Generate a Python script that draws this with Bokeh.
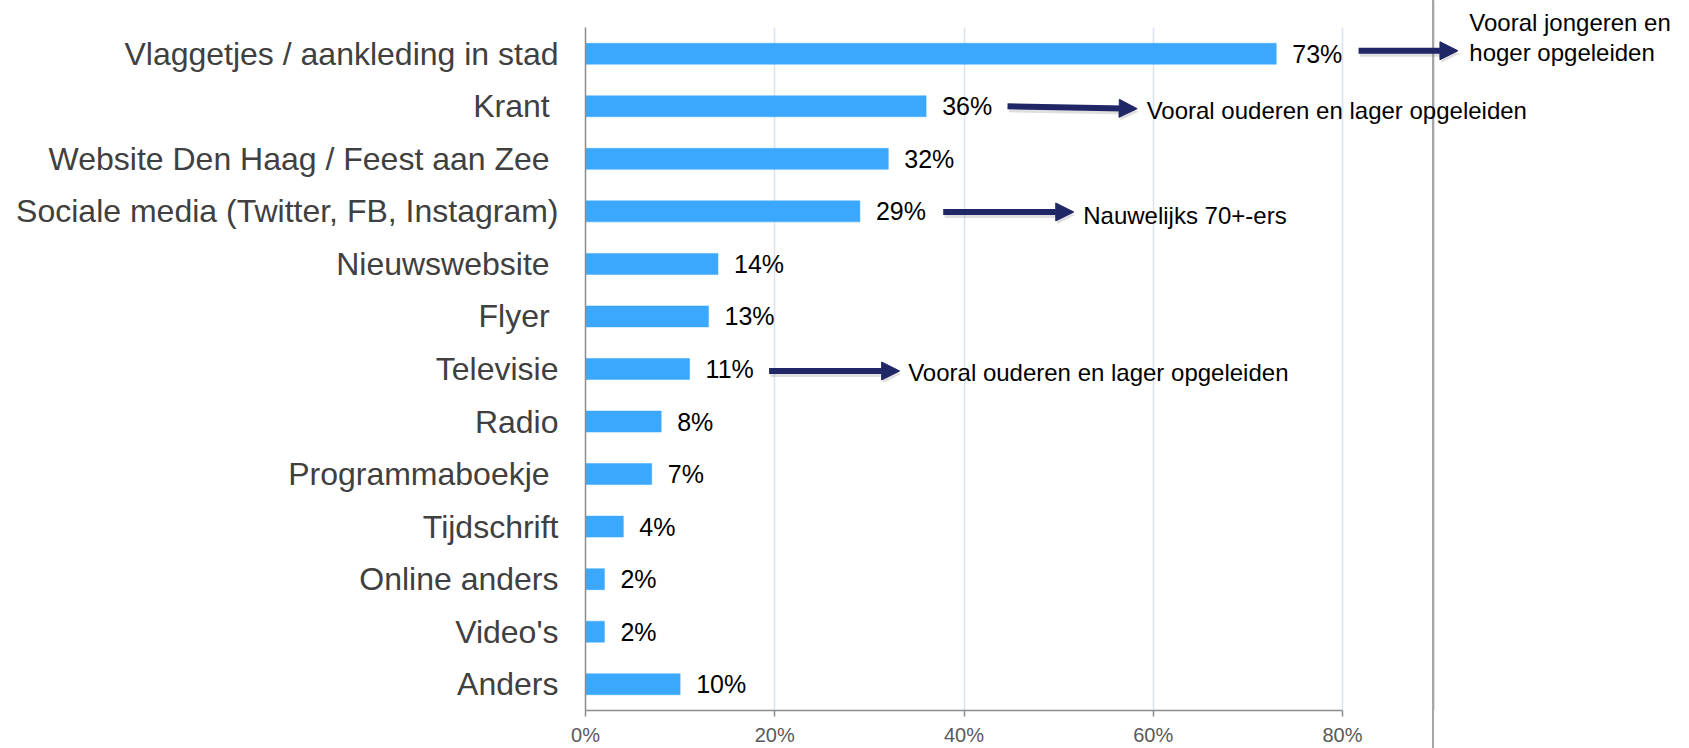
from bokeh.plotting import figure
from bokeh.models import (Range1d, FixedTicker, Arrow, NormalHead,
                          Span, Label, ColumnDataSource)
from bokeh.core.properties import value
from bokeh.embed import file_html
from bokeh.resources import INLINE

# ---------------- data ----------------
categories = [
    "Vlaggetjes / aankleding in stad",
    "Krant ",
    "Website Den Haag / Feest aan Zee ",
    "Sociale media (Twitter, FB, Instagram)",
    "Nieuwswebsite ",
    "Flyer ",
    "Televisie",
    "Radio",
    "Programmaboekje ",
    "Tijdschrift",
    "Online anders",
    "Video's",
    "Anders",
]
values = [73, 36, 32, 29, 14, 13, 11, 8, 7, 4, 2, 2, 10]
value_labels = [f"{v}%" for v in values]

tick_values = [0, 20, 40, 60, 80]
tick_labels = ["0%", "20%", "40%", "60%", "80%"]

note_texts = [
    "Vooral jongeren en",
    "hoger opgeleiden",
    "Vooral ouderen en lager opgeleiden",
    "Nauwelijks 70+-ers",
    "Vooral ouderen en lager opgeleiden",
]
note_category_index = [0, 0, 1, 3, 6]
note_x = [93.4, 93.4, 59.3, 52.6, 34.1]          # percent axis
note_dy = [-31.6, -1.6, 4.1, 4.6, 3.7]            # screen px, downwards

arrow_category_index = [0, 1, 3, 6]
arrow_x0 = [81.7, 44.6, 37.8, 19.4]
arrow_x1 = [92.2, 58.3, 51.6, 33.2]
arrow_dy0 = [-3.0, 0.0, 0.6, 2.0]
arrow_dy1 = [-3.0, 2.4, 0.6, 2.0]

divider_x = 89.6

# ---------------- styling constants ----------------
FONT = "Liberation Sans"
BAR = "#3CA8FD"
NAVY = "#1F2766"
AXIS = "#8C8C8C"
GRID = "#D9E3F1"
DIVIDER = "#A6A6A6"

W, H = 1689, 748
LEFT, BOTTOM, RIGHT = 585, 37, 0
AXIS_TOP = 27                      # where the category area starts (px from top)
n = len(categories)
band = (H - BOTTOM - AXIS_TOP) / n
px_per_pct = 9.4625
x_end = (W - LEFT - RIGHT) / px_per_pct
y_end = (H - BOTTOM) / band         # frame reaches the top of the canvas

# category positions on the y axis (top category highest)
ypos = [(n - 1 - i) + 0.5 for i in range(n)]

def ysyn(idx, dy):
    return ypos[idx] - dy / band

divider_px = LEFT + divider_x * px_per_pct

p = figure(width=W, height=H,
           y_range=Range1d(0, y_end),
           x_range=Range1d(0, x_end),
           output_backend="svg", toolbar_location=None,
           min_border_left=LEFT, min_border_right=RIGHT,
           min_border_top=0, min_border_bottom=BOTTOM)
p.outline_line_color = None
p.background_fill_color = None
p.border_fill_color = None
p.styles = {
    "background-color": "white",
    "background-image": (
        f"linear-gradient(to right, transparent {divider_px - 1:.1f}px, {DIVIDER} {divider_px - 1:.1f}px, "
        f"{DIVIDER} {divider_px + 1:.1f}px, transparent {divider_px + 1:.1f}px)"
    ),
}

src = ColumnDataSource(dict(y=ypos, cat=categories, val=values, lab=value_labels))
p.hbar(y="y", left=0, right="val", height=0.4, source=src,
       fill_color=BAR, line_color=BAR, line_width=0.5)

p.text(x="val", y="y", text="lab", source=src, x_offset=16,
       text_baseline="middle", text_align="left",
       text_font=value(FONT), text_font_size="25px", text_color="black")

# x axis
p.xaxis.ticker = FixedTicker(ticks=tick_values)
p.xaxis.major_label_overrides = {t: l for t, l in zip(tick_values, tick_labels)}
p.xaxis.bounds = (0, 80)
p.xaxis.axis_line_color = AXIS
p.xaxis.axis_line_width = 1.5
p.xaxis.major_tick_line_color = AXIS
p.xaxis.major_tick_line_width = 1.5
p.xaxis.major_tick_out = 6
p.xaxis.major_tick_in = 0
p.xaxis.minor_tick_line_color = None
p.xaxis.major_label_standoff = 7
p.xaxis.major_label_text_font = FONT
p.xaxis.major_label_text_font_size = "20px"
p.xaxis.major_label_text_color = "#595959"

# y axis (category labels)
p.yaxis.ticker = FixedTicker(ticks=ypos)
p.yaxis.major_label_overrides = {y: c for y, c in zip(ypos, categories)}
p.yaxis.bounds = (0, n)
p.yaxis.axis_line_color = AXIS
p.yaxis.axis_line_width = 1.5
p.yaxis.major_tick_line_color = None
p.yaxis.major_tick_out = 0
p.yaxis.major_tick_in = 0
p.yaxis.minor_tick_line_color = None
p.yaxis.major_label_standoff = 27
p.yaxis.major_label_text_font = FONT
p.yaxis.major_label_text_font_size = "32px"
p.yaxis.major_label_text_color = "#404040"

p.ygrid.grid_line_color = None
p.xgrid.grid_line_color = GRID
p.xgrid.grid_line_width = 1.5
for g in p.xgrid:
    if "cross_bounds" in g.properties():
        g.cross_bounds = (0, n)

# divider line on the right (inside the frame; the page background continues it)
p.add_layout(Span(location=divider_x, dimension="height",
                  line_color=DIVIDER, line_width=2))

# arrows (soft shadow first)
for i, x0, x1, d0, d1 in zip(arrow_category_index, arrow_x0, arrow_x1, arrow_dy0, arrow_dy1):
    p.add_layout(Arrow(x_start=x0 + 0.15, y_start=ysyn(i, d0 + 3), x_end=x1 + 0.15, y_end=ysyn(i, d1 + 3),
                       line_color="#7F7F7F", line_alpha=0.25, line_width=6,
                       end=NormalHead(size=18, fill_color="#7F7F7F", fill_alpha=0.25, line_color=None)))
    p.add_layout(Arrow(x_start=x0, y_start=ysyn(i, d0), x_end=x1, y_end=ysyn(i, d1),
                       line_color=NAVY, line_width=6,
                       end=NormalHead(size=18, fill_color=NAVY, line_color=NAVY, line_width=1)))

# annotation notes
for t, ci, x, dy in zip(note_texts, note_category_index, note_x, note_dy):
    p.add_layout(Label(x=x, y=ysyn(ci, dy), text=t,
                       text_baseline="middle", text_align="left",
                       text_font=FONT, text_font_size="24px", text_color="black"))

open("out.html", "w").write(file_html(p, INLINE))
